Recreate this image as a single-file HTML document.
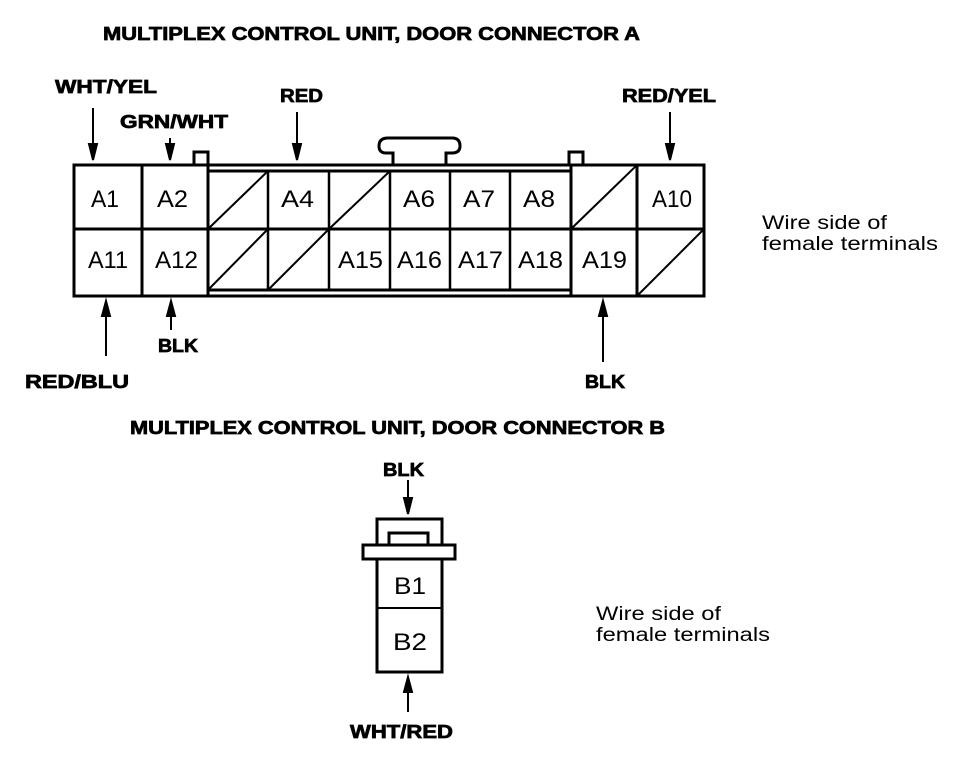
<!DOCTYPE html>
<html><head><meta charset="utf-8"><style>html,body{margin:0;padding:0;background:#fff}svg{display:block}</style></head>
<body>
<svg width="960" height="778" viewBox="0 0 960 778" xmlns="http://www.w3.org/2000/svg" font-family="Liberation Sans, sans-serif">
<g font-weight="bold" font-size="18" fill="#000" stroke="#000" stroke-width="0.7">
<text x="103" y="40" textLength="537" lengthAdjust="spacingAndGlyphs">MULTIPLEX CONTROL UNIT, DOOR CONNECTOR A</text>
<text x="130" y="434" textLength="535" lengthAdjust="spacingAndGlyphs">MULTIPLEX CONTROL UNIT, DOOR CONNECTOR B</text>
<text x="55" y="93" textLength="102" lengthAdjust="spacingAndGlyphs">WHT/YEL</text>
<text x="120" y="128" textLength="108" lengthAdjust="spacingAndGlyphs">GRN/WHT</text>
<text x="280" y="102" textLength="43" lengthAdjust="spacingAndGlyphs">RED</text>
<text x="622" y="102" textLength="94" lengthAdjust="spacingAndGlyphs">RED/YEL</text>
<text x="25" y="388" textLength="104" lengthAdjust="spacingAndGlyphs">RED/BLU</text>
<text x="158" y="352" textLength="40" lengthAdjust="spacingAndGlyphs">BLK</text>
<text x="585" y="388" textLength="40" lengthAdjust="spacingAndGlyphs">BLK</text>
<text x="383" y="476" textLength="41" lengthAdjust="spacingAndGlyphs">BLK</text>
<text x="350" y="738" textLength="103" lengthAdjust="spacingAndGlyphs">WHT/RED</text>
</g>
<g font-size="19" fill="#000">
<text x="762" y="229" textLength="125" lengthAdjust="spacingAndGlyphs">Wire side of</text>
<text x="762" y="250" textLength="176" lengthAdjust="spacingAndGlyphs">female terminals</text>
<text x="596" y="620" textLength="125" lengthAdjust="spacingAndGlyphs">Wire side of</text>
<text x="596" y="641" textLength="174" lengthAdjust="spacingAndGlyphs">female terminals</text>
</g>
<g stroke="#000" stroke-width="2" fill="#000">
<line x1="93" y1="108" x2="93" y2="146"/><path d="M89,144 L97,144 L93,160 Z"/>
<line x1="170" y1="138" x2="170" y2="146"/><path d="M166,144 L174,144 L170,160 Z"/>
<line x1="297" y1="112" x2="297" y2="146"/><path d="M293,144 L301,144 L297,160 Z"/>
<line x1="670" y1="112" x2="670" y2="146"/><path d="M666,144 L674,144 L670,160 Z"/>
<line x1="106" y1="314" x2="106" y2="356"/><path d="M102,316 L110,316 L106,301 Z"/>
<line x1="171" y1="314" x2="171" y2="330"/><path d="M167,316 L175,316 L171,301 Z"/>
<line x1="603" y1="314" x2="603" y2="362"/><path d="M599,316 L607,316 L603,301 Z"/>
<line x1="408" y1="480" x2="408" y2="500"/><path d="M404,498 L412,498 L408,514 Z"/>
<line x1="408" y1="690" x2="408" y2="712"/><path d="M404,692 L412,692 L408,677 Z"/>
</g>
<g stroke="#000" stroke-width="3" fill="none">
<rect x="194" y="152" width="14" height="13" fill="#fff"/>
<rect x="569" y="152" width="14" height="13" fill="#fff"/>
<path d="M393,165 L393,153 L386,153 Q379,153 379,146 Q379,138 388,138 L452,138 Q460,138 460,146 Q460,153 452,153 L446,153 L446,165"/>
<rect x="74" y="165" width="630" height="131" fill="#fff"/>
<line x1="208" y1="171" x2="571" y2="171"/>
<line x1="208" y1="290" x2="571" y2="290"/>
<line x1="74" y1="229" x2="704" y2="229"/>
<line x1="142" y1="165" x2="142" y2="296"/>
<line x1="208" y1="165" x2="208" y2="296"/>
<line x1="571" y1="165" x2="571" y2="296"/>
<line x1="637" y1="165" x2="637" y2="296"/>
</g>
<g stroke="#000" stroke-width="2.5" fill="none">
<line x1="268" y1="171" x2="268" y2="290"/>
<line x1="329" y1="171" x2="329" y2="290"/>
<line x1="390" y1="171" x2="390" y2="290"/>
<line x1="450" y1="171" x2="450" y2="290"/>
<line x1="510" y1="171" x2="510" y2="290"/>
</g>
<g stroke="#000" stroke-width="2" fill="none">
<line x1="208" y1="229" x2="268" y2="171"/>
<line x1="329" y1="229" x2="390" y2="171"/>
<line x1="571" y1="229" x2="637" y2="165"/>
<line x1="208" y1="290" x2="268" y2="229"/>
<line x1="268" y1="290" x2="329" y2="229"/>
<line x1="637" y1="296" x2="704" y2="229"/>
</g>
<g font-size="24" fill="#000">
<text x="91" y="207" textLength="28" lengthAdjust="spacingAndGlyphs">A1</text>
<text x="157" y="207" textLength="31" lengthAdjust="spacingAndGlyphs">A2</text>
<text x="281" y="207" textLength="33" lengthAdjust="spacingAndGlyphs">A4</text>
<text x="403" y="207" textLength="32" lengthAdjust="spacingAndGlyphs">A6</text>
<text x="463" y="207" textLength="32" lengthAdjust="spacingAndGlyphs">A7</text>
<text x="523" y="207" textLength="32" lengthAdjust="spacingAndGlyphs">A8</text>
<text x="652" y="207" textLength="40" lengthAdjust="spacingAndGlyphs">A10</text>
<text x="88" y="268" textLength="40" lengthAdjust="spacingAndGlyphs">A11</text>
<text x="155" y="268" textLength="43" lengthAdjust="spacingAndGlyphs">A12</text>
<text x="338" y="268" textLength="45" lengthAdjust="spacingAndGlyphs">A15</text>
<text x="397" y="268" textLength="45" lengthAdjust="spacingAndGlyphs">A16</text>
<text x="458" y="268" textLength="45" lengthAdjust="spacingAndGlyphs">A17</text>
<text x="518" y="268" textLength="45" lengthAdjust="spacingAndGlyphs">A18</text>
<text x="582" y="268" textLength="45" lengthAdjust="spacingAndGlyphs">A19</text>
</g>
<g stroke="#000" stroke-width="3" fill="#fff">
<rect x="377" y="519" width="65" height="153"/>
<rect x="389" y="533" width="39" height="12"/>
<rect x="363" y="545" width="92" height="14"/>
<rect x="377" y="559" width="65" height="113" fill="none"/>
</g>
<line x1="377" y1="608" x2="442" y2="608" stroke="#000" stroke-width="2"/>
<g font-size="24" fill="#000">
<text x="394" y="594" textLength="32" lengthAdjust="spacingAndGlyphs">B1</text>
<text x="393" y="650" textLength="34" lengthAdjust="spacingAndGlyphs">B2</text>
</g>
</svg>
</body></html>
